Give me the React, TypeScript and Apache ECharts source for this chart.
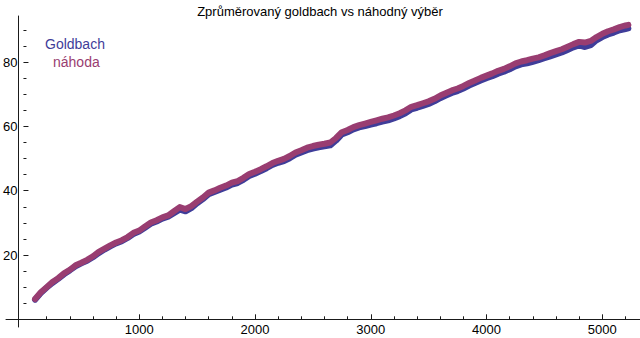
import React, { useEffect, useRef } from "react";
import * as echarts from "echarts";

const chartTitle = "Zprůměrovaný goldbach vs náhodný výběr";
const seriesNames = ["Goldbach", "náhoda"];
const seriesColors = ["#3f3d99", "#993d71"];

const xValues = [
  100, 150, 200, 250, 300, 350, 400, 450, 500, 550, 600, 650, 700, 750, 800, 850, 900, 950,
  1000, 1050, 1100, 1150, 1200, 1250, 1300, 1350, 1400, 1450, 1500, 1550, 1600, 1650, 1700, 1750,
  1800, 1850, 1900, 1950, 2000, 2050, 2100, 2150, 2200, 2250, 2300, 2350, 2400, 2450, 2500, 2550,
  2600, 2650, 2700, 2750, 2800, 2850, 2900, 2950, 3000, 3050, 3100, 3150, 3200, 3250, 3300, 3350,
  3400, 3450, 3500, 3550, 3600, 3650, 3700, 3750, 3800, 3850, 3900, 3950, 4000, 4050, 4100, 4150,
  4200, 4250, 4300, 4350, 4400, 4450, 4500, 4550, 4600, 4650, 4700, 4750, 4800, 4850, 4900, 4950,
  5000, 5050, 5100, 5150, 5200, 5225,
];

const goldbach = [
  6.1, 8.2, 9.8, 11.3, 12.6, 14.0, 15.2, 16.5, 17.4, 18.2, 19.3, 20.6, 21.7, 22.7, 23.6, 24.3, 25.3, 26.5,
  27.3, 28.5, 29.7, 30.4, 31.3, 31.9, 33.0, 34.1, 33.6, 34.6, 36.1, 37.4, 38.9, 39.6, 40.3, 41.0,
  41.9, 42.4, 43.4, 44.6, 45.3, 46.1, 47.0, 48.0, 48.7, 49.2, 50.1, 51.2, 51.9, 52.6, 53.1, 53.5,
  53.8, 54.1, 55.6, 57.5, 58.2, 59.1, 59.7, 60.1, 60.6, 61.0, 61.5, 61.9, 62.5, 63.2, 64.1, 65.3,
  65.8, 66.4, 67.0, 67.8, 68.8, 69.6, 70.4, 71.0, 71.8, 72.7, 73.5, 74.3, 75.0, 75.6, 76.4, 77.0,
  77.8, 78.7, 79.3, 79.6, 80.1, 80.6, 81.2, 81.8, 82.4, 83.0, 83.8, 84.6, 85.2, 84.7, 85.3, 86.8,
  87.8, 88.6, 89.2, 89.9, 90.3, 90.5,
];

const nahoda = [
  6.3, 8.4, 10.0, 11.6, 12.8, 14.3, 15.4, 16.8, 17.6, 18.5, 19.6, 21.0, 22.0, 23.0, 23.9, 24.6, 25.6, 26.9,
  27.6, 28.9, 30.1, 30.8, 31.7, 32.3, 33.6, 34.9, 34.3, 35.2, 36.6, 37.9, 39.4, 40.1, 40.9, 41.6,
  42.5, 43.0, 44.0, 45.2, 45.9, 46.7, 47.6, 48.6, 49.3, 49.9, 50.8, 51.9, 52.6, 53.4, 53.9, 54.3,
  54.6, 55.0, 56.4, 58.2, 58.9, 59.8, 60.4, 60.9, 61.4, 61.9, 62.4, 62.8, 63.4, 64.1, 65.0, 66.1,
  66.6, 67.2, 67.8, 68.6, 69.6, 70.4, 71.2, 71.8, 72.6, 73.5, 74.3, 75.1, 75.8, 76.5, 77.3, 77.9,
  78.7, 79.6, 80.2, 80.6, 81.1, 81.5, 82.1, 82.8, 83.4, 84.0, 84.8, 85.6, 86.3, 86.1, 86.6, 87.8,
  88.8, 89.6, 90.2, 90.9, 91.4, 91.6,
];

const xTickValues = [1000, 2000, 3000, 4000, 5000];
const yTickValues = [20, 40, 60, 80];

const FONT = "'Liberation Sans', Arial, Helvetica, sans-serif";

export default function App() {
  const ref = useRef<HTMLDivElement>(null);

  useEffect(() => {
    document.body.style.margin = "0";
    if (!ref.current) return;
    const chart = echarts.init(ref.current, undefined, { renderer: "svg" });

    const axisColor = "#1a1a1a";
    const plain = (v: number) => String(v);

    const option: any = {
      animation: false,
      backgroundColor: "#ffffff",
      title: {
        text: chartTitle,
        left: "center",
        top: 0,
        textStyle: { fontFamily: FONT, fontSize: 13, fontWeight: "normal", color: "#000" },
      },
      grid: [
        { left: 6, right: 0, top: 16, bottom: 11 },
        { left: 18.25, right: 0, top: 16, bottom: 18.7 },
      ],
      xAxis: [
        {
          gridIndex: 0,
          type: "value",
          min: -104.9,
          max: 5325.5,
          axisLine: { show: true, onZero: true, lineStyle: { color: axisColor, width: 1 } },
          axisTick: { show: false },
          axisLabel: { show: false },
          splitLine: { show: false },
        },
        {
          gridIndex: 1,
          type: "value",
          min: 0,
          max: 5325.5,
          interval: 1000,
          axisLine: { show: false },
          axisTick: {
            show: true,
            inside: true,
            length: 5,
            customValues: xTickValues,
            lineStyle: { color: axisColor },
          },
          minorTick: { show: true, splitNumber: 5, length: 3, lineStyle: { color: axisColor } },
          axisLabel: {
            customValues: xTickValues,
            formatter: plain,
            margin: 4,
            fontFamily: FONT,
            fontSize: 13,
            color: "#000",
          },
          splitLine: { show: false },
        },
      ],
      yAxis: [
        {
          gridIndex: 0,
          type: "value",
          min: -2.4,
          max: 94.35,
          axisLine: { show: true, onZero: true, lineStyle: { color: axisColor, width: 1 } },
          axisTick: { show: false },
          axisLabel: { show: false },
          splitLine: { show: false },
        },
        {
          gridIndex: 1,
          type: "value",
          min: 0,
          max: 94.35,
          interval: 20,
          axisLine: { show: false },
          axisTick: {
            show: true,
            inside: true,
            length: 5,
            customValues: yTickValues,
            lineStyle: { color: axisColor },
          },
          minorTick: { show: true, splitNumber: 4, length: 3, lineStyle: { color: axisColor } },
          axisLabel: {
            customValues: yTickValues,
            formatter: plain,
            margin: 6,
            fontFamily: FONT,
            fontSize: 13,
            color: "#000",
          },
          splitLine: { show: false },
        },
      ],
      graphic: [
        {
          type: "text",
          left: 45,
          top: 37,
          style: {
            text: seriesNames[0],
            fill: seriesColors[0],
            font: `14px ${FONT}`,
          },
        },
        {
          type: "text",
          left: 53,
          top: 55,
          style: {
            text: seriesNames[1],
            fill: seriesColors[1],
            font: `14px ${FONT}`,
          },
        },
      ],
      series: [
        {
          name: seriesNames[0],
          type: "line",
          xAxisIndex: 1,
          yAxisIndex: 1,
          data: xValues.map((x, i) => [x, goldbach[i]]),
          showSymbol: false,
          symbol: "none",
          color: seriesColors[0],
          lineStyle: { width: 6, color: seriesColors[0], cap: "round", join: "round" },
          z: 2,
        },
        {
          name: seriesNames[1],
          type: "line",
          xAxisIndex: 1,
          yAxisIndex: 1,
          data: xValues.map((x, i) => [x, nahoda[i]]),
          showSymbol: false,
          symbol: "none",
          color: seriesColors[1],
          lineStyle: { width: 6, color: seriesColors[1], cap: "round", join: "round" },
          z: 3,
        },
      ],
    };

    chart.setOption(option);
    return () => {
      chart.dispose();
    };
  }, []);

  return (
    <div
      ref={ref}
      style={{ position: "fixed", left: 0, top: 0, width: 640, height: 338, background: "#fff" }}
    />
  );
}
